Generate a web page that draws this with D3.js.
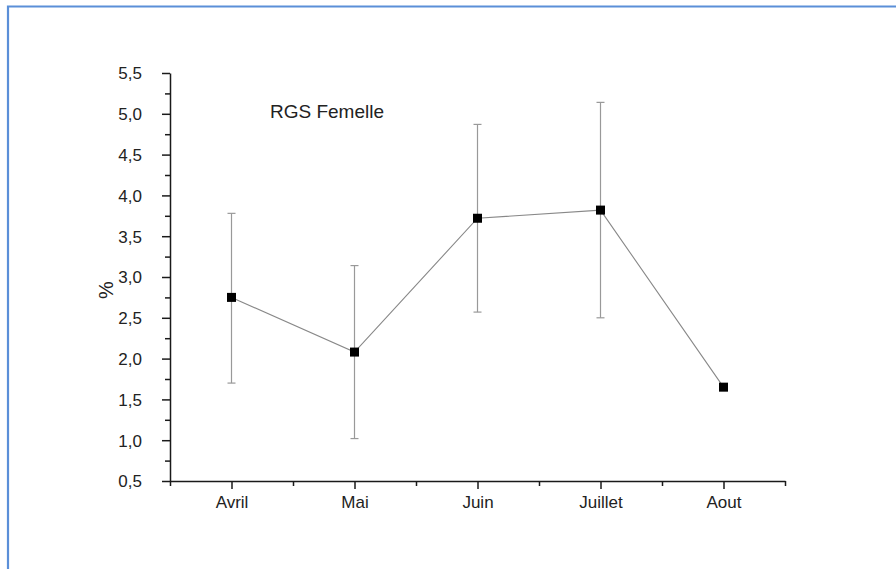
<!DOCTYPE html>
<html>
<head>
<meta charset="utf-8">
<script src="https://cdn.jsdelivr.net/npm/d3@7"></script>
<style>
  html, body { margin: 0; padding: 0; background: #fff; }
  svg { display: block; }
  text { font-family: "Liberation Sans", Arial, sans-serif; fill: #222; }
</style>
</head>
<body>
<svg id="chart" width="896" height="569"></svg>
<script>
const categories = ["Avril", "Mai", "Juin", "Juillet", "Aout"];
const means = [2.75, 2.08, 3.72, 3.82, 1.65];
const errLow = [1.70, 1.02, 2.57, 2.50, null];
const errHigh = [3.78, 3.14, 4.87, 5.14, null];
const yTicks = [0.5, 1.0, 1.5, 2.0, 2.5, 3.0, 3.5, 4.0, 4.5, 5.0, 5.5];
const title = "RGS Femelle";
const yLabel = "%";

const svg = d3.select("#chart");

// frame border
svg.append("path")
  .attr("d", "M8,569 V6.5 H896")
  .attr("fill", "none")
  .attr("stroke", "#5b8fd8")
  .attr("stroke-width", 2.2);

const x = d3.scaleLinear().domain([0.5, 5.5]).range([170, 785]);
const y = d3.scaleLinear().domain([0.5, 5.5]).range([481, 73]);

const fmt = d => d3.format(".1f")(d).replace(".", ",");

// Y axis
const yAxis = d3.axisLeft(y).tickValues(yTicks).tickFormat(fmt).tickSize(8).tickSizeOuter(0).tickPadding(20);
const gy = svg.append("g").attr("transform", "translate(170,0)").call(yAxis);
gy.selectAll("text").attr("font-size", 17).attr("dy", "0.35em");
const yMinor = d3.axisLeft(y).tickValues(d3.range(0.75, 5.5, 0.5)).tickFormat("").tickSize(5).tickSizeOuter(0);
svg.append("g").attr("transform", "translate(170,0)").call(yMinor).select(".domain").remove();

// X axis
const xAxis = d3.axisBottom(x).tickValues([1, 2, 3, 4, 5]).tickFormat((d, i) => categories[i]).tickSize(8).tickSizeOuter(0);
const gx = svg.append("g").attr("transform", "translate(0,481)").call(xAxis);
gx.selectAll("text").attr("font-size", 17).attr("dy", "0.95em");
const xMinor = d3.axisBottom(x).tickValues([0.5, 1.5, 2.5, 3.5, 4.5, 5.5]).tickFormat("").tickSize(5).tickSizeOuter(0);
svg.append("g").attr("transform", "translate(0,481)").call(xMinor).select(".domain").remove();

svg.selectAll(".domain, .tick line").attr("stroke", "#1a1a1a").attr("stroke-width", 1.5);

const data = categories.map((c, i) => ({ c, i: i + 1, m: means[i], lo: errLow[i], hi: errHigh[i] }));

// error bars
const eb = svg.append("g").attr("stroke", "#999").attr("stroke-width", 1.2);
data.filter(d => d.lo != null).forEach(d => {
  eb.append("line").attr("x1", x(d.i)).attr("x2", x(d.i)).attr("y1", y(d.lo)).attr("y2", y(d.hi));
  eb.append("line").attr("x1", x(d.i) - 4).attr("x2", x(d.i) + 4).attr("y1", y(d.lo)).attr("y2", y(d.lo));
  eb.append("line").attr("x1", x(d.i) - 4).attr("x2", x(d.i) + 4).attr("y1", y(d.hi)).attr("y2", y(d.hi));
});

// line
svg.append("path")
  .datum(data)
  .attr("fill", "none")
  .attr("stroke", "#888")
  .attr("stroke-width", 1.1)
  .attr("d", d3.line().x(d => x(d.i)).y(d => y(d.m)));

// markers
svg.selectAll("rect.pt").data(data).enter().append("rect")
  .attr("class", "pt")
  .attr("x", d => x(d.i) - 4.5).attr("y", d => y(d.m) - 4.5)
  .attr("width", 9).attr("height", 9)
  .attr("fill", "#000");

// title
svg.append("text").attr("x", 270).attr("y", 118).attr("font-size", 19).text(title);

// y label
svg.append("text")
  .attr("transform", "translate(113,290) rotate(-90)")
  .attr("text-anchor", "middle")
  .attr("font-size", 20)
  .text(yLabel);
</script>
</body>
</html>
